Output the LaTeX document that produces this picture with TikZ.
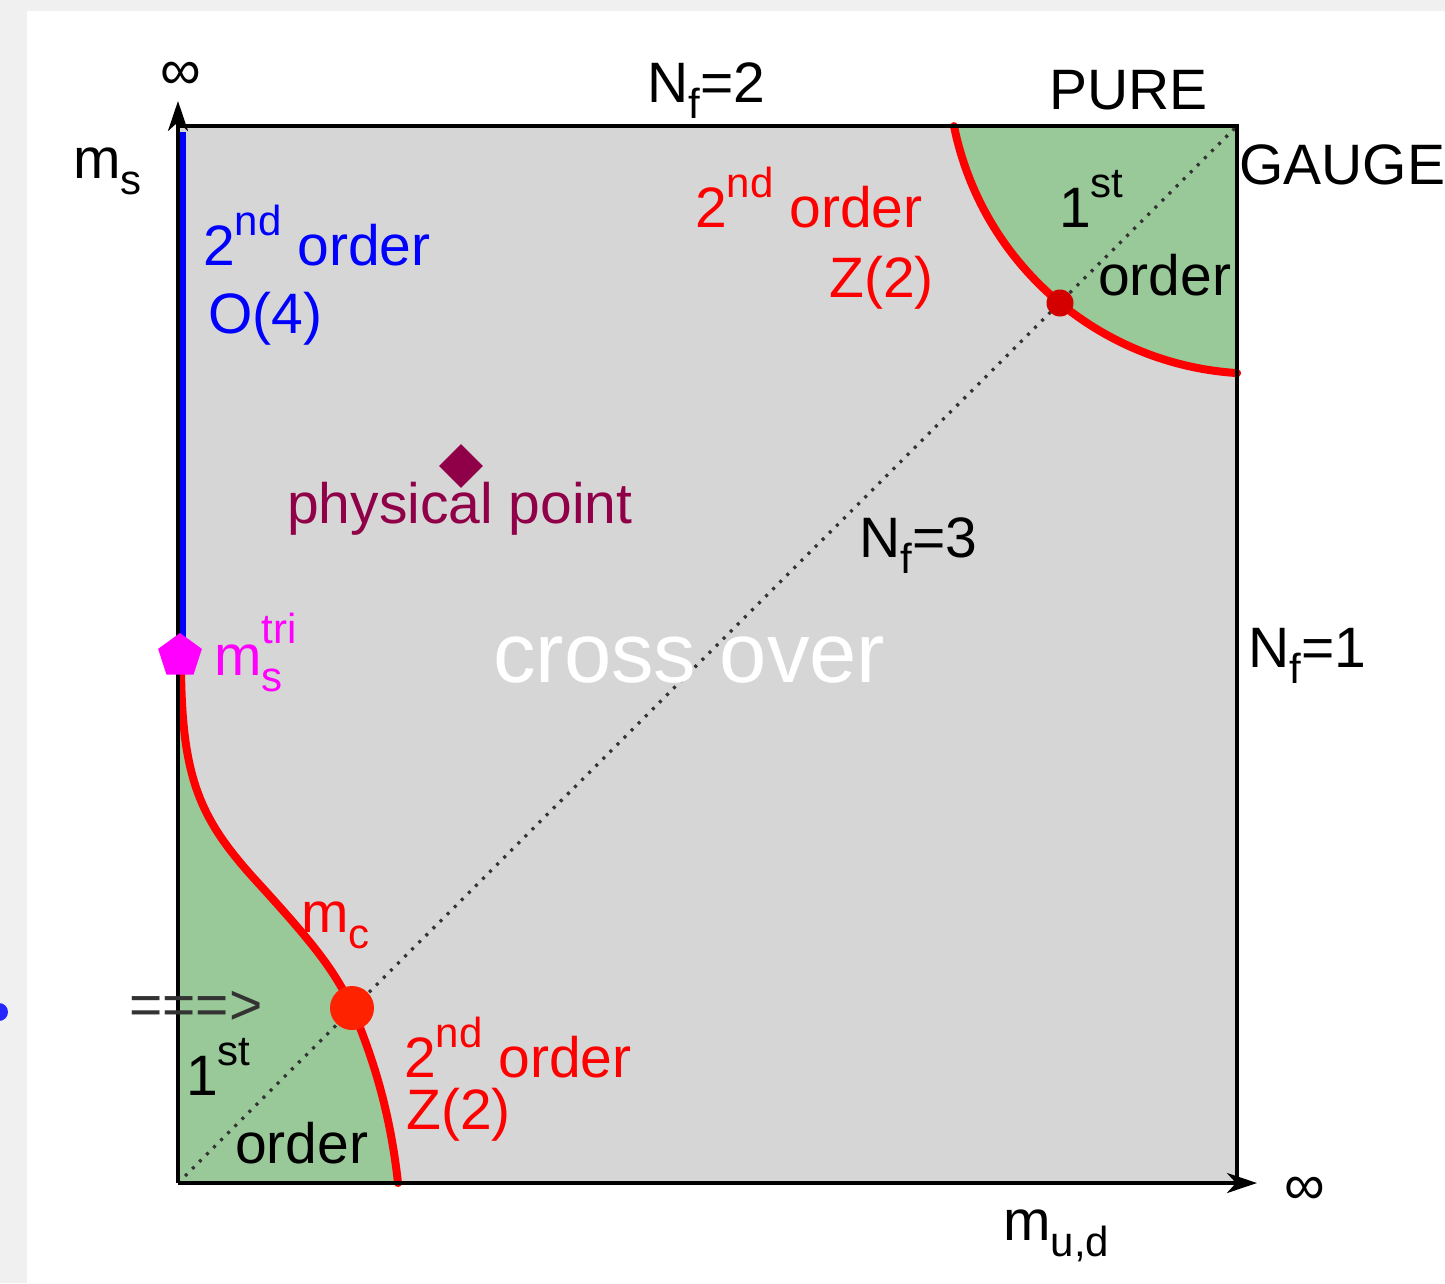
\documentclass[tikz,border=0pt]{standalone}
\usepackage{fontspec}
\setmainfont{Liberation Sans}
\usetikzlibrary{arrows.meta,shapes.geometric}

\definecolor{panelgray}{HTML}{F0F0F0}
\definecolor{regiongray}{HTML}{D6D6D6}
\definecolor{firstgreen}{HTML}{99C899}
\definecolor{physpurple}{HTML}{900048}
\definecolor{upperdot}{HTML}{D40000}
\definecolor{lowerdot}{HTML}{FF2200}
\definecolor{diagdots}{HTML}{333333}
\definecolor{trimag}{HTML}{FF00FF}
\definecolor{o4blue}{HTML}{0000FF}

% raised and lowered small text for ordinals and indices
\newcommand{\hi}[2][30pt]{\raisebox{#1}{\fontsize{42}{42}\selectfont #2}}
\newcommand{\lo}[1]{\raisebox{-16pt}{\fontsize{42}{42}\selectfont #1}}

\begin{document}
\begin{tikzpicture}[x=1pt,y=-1pt,
  lbl/.style={inner sep=0pt, anchor=base west, font=\fontsize{57}{62}\selectfont},
  bigtxt/.style={inner sep=0pt, anchor=base west, font=\fontsize{85}{90}\selectfont},
  inftxt/.style={inner sep=0pt, anchor=center, font=\fontsize{57}{62}\selectfont},
  transline/.style={red, line width=8pt, line cap=round},
  axisline/.style={black, line width=4pt},
  axisarrow/.style={axisline, -{Stealth[length=30pt,width=20pt,inset=9pt]}},
  diagline/.style={diagdots, line width=3.2pt, dash pattern=on 3pt off 7pt}
]
\useasboundingbox (0,0) rectangle (1445,1283);
\fill[panelgray] (0,0) rectangle (1445,1283);
\fill[white] (27,11) rectangle (1445,1283);
\fill[o4blue!85] (-1,1012) circle (9);

% corners of the mass plane
\coordinate (O)  at (178,1183);
\coordinate (TL) at (178,126);
\coordinate (TR) at (1237,126);
\coordinate (BR) at (1237,1183);
\coordinate (ytip) at (178,101);
\coordinate (xtip) at (1257,1183);

% regions
\fill[regiongray] (O) rectangle (TR);
\fill[firstgreen] (178,660) -- (181,660) .. controls (181,780) and (200,820) .. (260,885)
  .. controls (310,940) and (335,970) .. (352,1008)
  .. controls (372,1055) and (390,1110) .. (398,1183) -- (O) -- cycle;
\fill[firstgreen] plot[domain=168.6:93.6, samples=60] ({1256.5+308.6*cos(\x)},{65.1+308.6*sin(\x)}) -- (TR) -- cycle;

% N_f = 3 diagonal
\draw[diagline] (O) -- (TR);

% O(4) line on the m_s axis
\draw[o4blue, line width=7pt] (182,132) -- (182,652);

% critical lines
\draw[transline] (181,660) .. controls (181,780) and (200,820) .. (260,885)
  .. controls (310,940) and (335,970) .. (352,1008)
  .. controls (372,1055) and (390,1110) .. (398,1183);
\draw[transline] plot[domain=168.6:93.6, samples=60] ({1256.5+308.6*cos(\x)},{65.1+308.6*sin(\x)});

% frame and axes
\draw[axisline] (TL) -- (TR) -- (BR);
\draw[axisarrow] (O) -- (ytip);
\draw[axisarrow] (O) -- (xtip);

% special points
\node[circle, fill=lowerdot, minimum size=44pt, inner sep=0pt] (cpl) at (352,1008) {};
\node[circle, fill=upperdot, minimum size=27pt, inner sep=0pt] (cpu) at (1060,303) {};
\node[regular polygon, regular polygon sides=5, fill=trimag, minimum size=46pt, inner sep=0pt] (tri) at (180,656) {};
\node[diamond, aspect=1, fill=physpurple, minimum size=44pt, inner sep=0pt] (phys) at (461,466) {};

% axis labels
\node[inftxt] (infy) at (181,76) {∞};
\node[inftxt] (infx) at (1305,1191) {∞};
\node[lbl] (ms) at (73,178) {m\lo{s}};
\node[lbl] (mud) at (1003,1240) {m\lo{u,d}};

% edge labels
\node[lbl] (nf2) at (647,102) {N\lo{f}=2};
\node[lbl] (pure) at (1049,109) {PURE};
\node[lbl] (gauge) at (1239,184) {GAUGE};
\node[lbl] (nf1) at (1248,667) {N\lo{f}=1};
\node[lbl] (nf3) at (859,557) {N\lo{f}=3};

% region labels
\node[lbl, o4blue] (o4a) at (203,265) {2\hi{nd} order};
\node[lbl, o4blue] (o4b) at (208,333) {O(4)};
\node[lbl, red] (z2a) at (695,227) {2\hi{nd} order};
\node[lbl, red] (z2b) at (829,297) {Z(2)};
\node[lbl] (fa) at (1059,227) {1\hi{st}};
\node[lbl] (fb) at (1098,295) {order};
\node[lbl, physpurple] (physl) at (287,523) {physical point};
\node[bigtxt, white] (cross) at (493,682) {cross over};
\node[lbl, trimag] (mtri) at (214,675) {m\rlap{\hi[32pt]{tri}}\lo{s}};
\node[lbl, red] (mc) at (301,932) {m\lo{c}};
\node[lbl, diagdots] (arr) at (129,1024) {===>};
\node[lbl] (fc) at (186,1095) {1\hi{st}};
\node[lbl] (fd) at (235,1163) {order};
\node[lbl, red] (z2c) at (404,1077) {2\hi{nd} order};
\node[lbl, red] (z2d) at (406,1129) {Z(2)};
\end{tikzpicture}
\end{document}
